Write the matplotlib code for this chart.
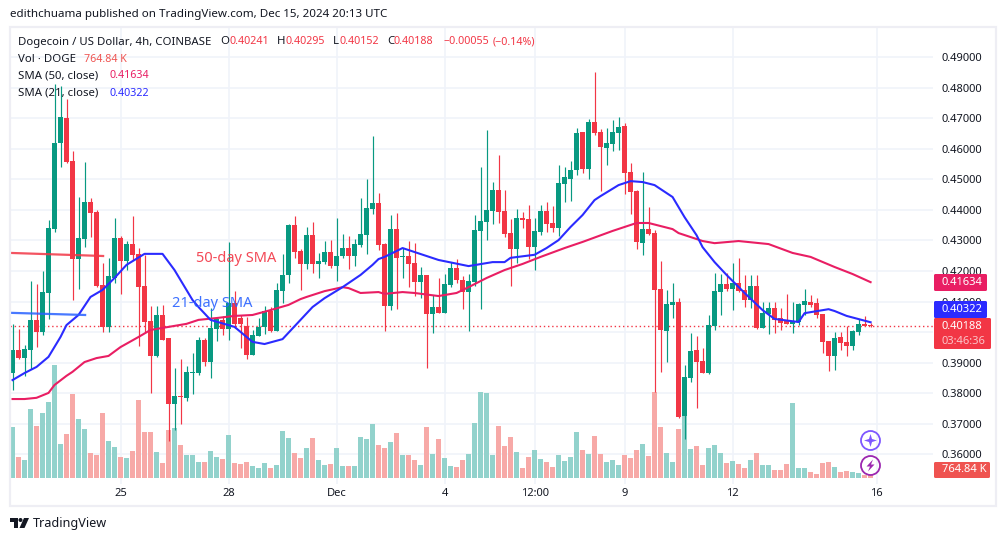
import matplotlib
matplotlib.use("Agg")
import matplotlib.pyplot as plt
from matplotlib.patches import Rectangle, Circle, Polygon, FancyBboxPatch
import numpy as np

plt.rcParams['font.family'] = ['Noto Sans', 'DejaVu Sans']

# 4h candles
opens = [.3866,.3942,.3915,.3942,.4040,.4000,.4128,.4337,.4618,.4700,
         .4559,.4239,.4304,.4425,.4392,.4154,.4017,.4177,.4308,.4233,
         .4288,.4256,.4151,.4037,.3922,.4056,.3981,.3765,.3791,.3785,
         .3866,.3866,.3974,.3902,.4010,.4040,.4010,.4095,.4046,.4020,
         .3925,.3987,.4017,.4069,.4004,.4134,.4187,.4350,.4266,.4223,
         .4317,.4223,.4229,.4262,.4216,.4249,.4275,.4249,.4285,.4317,
         .4402,.4422,.4288,.4085,.4337,.4246,.4249,.4226,.4164,.4187,
         .4059,.4082,.4062,.4154,.4210,.4170,.4131,.4164,.4331,.4360,
         .4396,.4465,.4396,.4324,.4272,.4374,.4370,.4278,.4327,.4396,
         .4357,.4341,.4484,.4501,.4530,.4654,.4533,.4687,.4654,.4602,
         .4615,.4651,.4674,.4523,.4462,.4291,.4337,.4324,.4141,.4004,
         .4088,.4098,.3726,.3850,.3942,.3905,.3866,.4020,.4131,.4157,
         .4141,.4160,.4138,.4105,.4151,.4014,.4059,.4079,.4046,.4037,
         .4027,.4033,.4088,.4098,.4095,.4059,.3971,.3922,.3984,.3968,
         .3955,.4000,.4027,.40241]
highs = [.4027,.4010,.3958,.4167,.4157,.4200,.4367,.4811,.4805,.4762,
         .4592,.4442,.4556,.4439,.4399,.4226,.4243,.4374,.4314,.4298,
         .4380,.4275,.4253,.4085,.4085,.4088,.3981,.3883,.3912,.3889,
         .3932,.3984,.3981,.4079,.4050,.4053,.4295,.4134,.4056,.4050,
         .4007,.4046,.4085,.4082,.4160,.4256,.4355,.4380,.4272,.4344,
         .4360,.4259,.4298,.4301,.4374,.4321,.4314,.4304,.4439,.4501,
         .4641,.4455,.4290,.4383,.4389,.4275,.4298,.4291,.4213,.4187,
         .4121,.4177,.4190,.4229,.4239,.4183,.4190,.4383,.4540,.4661,
         .4491,.4579,.4465,.4370,.4402,.4392,.4416,.4374,.4416,.4425,
         .4412,.4546,.4540,.4559,.4667,.4654,.4697,.4850,.4664,.4667,
         .4694,.4703,.4684,.4553,.4465,.4523,.4409,.4334,.4233,.4138,
         .4160,.4111,.3893,.3997,.3987,.3948,.4056,.4193,.4190,.4193,
         .4226,.4243,.4187,.4187,.4187,.4098,.4098,.4098,.4079,.4125,
         .4098,.4095,.4141,.4121,.4111,.4059,.3971,.4000,.4000,.4020,
         .4007,.4043,.4053,.40295]
lows = [.3811,.3912,.3856,.3879,.3951,.3990,.4043,.4327,.4540,.4553,
        .4105,.4141,.4278,.4311,.4147,.4000,.4000,.4160,.4125,.4203,
        .4236,.3955,.4000,.3801,.3919,.3974,.3644,.3680,.3700,.3775,
        .3798,.3859,.3889,.3850,.3971,.3990,.3974,.4014,.3948,.3912,
        .3925,.3987,.3994,.4000,.4004,.4095,.4160,.4243,.4138,.4206,
        .4193,.4177,.4223,.4210,.4167,.4243,.4206,.4216,.4278,.4256,
        .4386,.4269,.4004,.4072,.4075,.4177,.4147,.4118,.4111,.3883,
        .3997,.4062,.4062,.4147,.4160,.4075,.4004,.4151,.4075,.4301,
        .4353,.4357,.4311,.4151,.4226,.4341,.4239,.4203,.4317,.4327,
        .4327,.4314,.4425,.4429,.4514,.4520,.4501,.4645,.4462,.4546,
        .4592,.4596,.4452,.4386,.4272,.4253,.4317,.3804,.3869,.3902,
        .4046,.3719,.3650,.3837,.3752,.3866,.3863,.4007,.4056,.4134,
        .4072,.4131,.4082,.4079,.4010,.4014,.3994,.3997,.4007,.4027,
        .3997,.4023,.4056,.4082,.4046,.3932,.3873,.3876,.3942,.3922,
        .3942,.3990,.4020,.40152]
closes = [.3942,.3915,.3945,.4040,.4000,.4131,.4341,.4618,.4703,.4556,
          .4239,.4308,.4425,.4389,.4151,.4017,.4183,.4308,.4233,.4288,
          .4253,.4147,.4033,.3922,.4056,.3974,.3765,.3791,.3788,.3869,
          .3869,.3974,.3902,.4014,.4043,.4010,.4095,.4027,.4027,.3925,
          .3990,.4017,.4069,.4004,.4138,.4187,.4350,.4262,.4223,.4317,
          .4223,.4233,.4262,.4216,.4249,.4275,.4249,.4288,.4321,.4406,
          .4422,.4285,.4085,.4337,.4243,.4249,.4223,.4164,.4187,.4059,
          .4082,.4062,.4157,.4210,.4170,.4131,.4167,.4334,.4363,.4399,
          .4465,.4392,.4321,.4272,.4374,.4367,.4278,.4331,.4396,.4353,
          .4341,.4488,.4507,.4530,.4651,.4533,.4687,.4651,.4605,.4618,
          .4654,.4671,.4520,.4458,.4295,.4337,.4321,.4138,.4007,.4092,
          .4098,.3722,.3853,.3939,.3902,.3866,.4023,.4134,.4157,.4141,
          .4160,.4134,.4105,.4151,.4014,.4062,.4079,.4040,.4030,.4027,
          .4037,.4092,.4102,.4088,.4056,.3968,.3922,.3981,.3965,.3955,
          .4004,.4027,.4020,.40188]
# volume in millions of DOGE
volumes = [15.2,6.2,5.3,20.6,15.5,19.4,22.7,33.8,10.1,13.1,
           25.1,17.6,14.6,7.4,6.8,19.4,11.0,9.2,6.2,5.9,
           8.0,23.3,13.7,13.7,7.7,4.4,14.3,14.9,9.8,6.8,
           6.8,4.7,4.7,8.0,6.2,5.6,12.8,4.4,4.1,4.7,
           3.5,2.9,4.4,2.9,3.8,14.0,11.9,7.5,6.0,9.0,
           12.0,5.4,3.9,4.2,9.0,3.6,3.6,3.6,12.3,11.7,
           16.2,9.9,9.0,10.8,13.5,6.9,6.9,5.4,3.9,15.3,
           7.2,11.7,6.0,3.6,3.3,5.4,7.2,16.5,25.8,25.5,
           6.9,15.6,9.6,12.3,7.8,3.0,6.3,8.4,5.7,4.8,
           3.3,6.9,5.1,6.3,13.8,8.4,7.2,12.6,7.2,4.8,
           5.4,3.9,6.9,6.0,8.4,10.2,6.6,25.8,15.3,7.5,
           4.8,14.7,18.9,8.7,9.6,3.9,9.0,9.9,7.5,4.5,
           5.1,4.2,3.0,5.4,7.5,3.9,3.9,2.4,2.4,4.2,
           22.5,3.0,3.0,1.8,1.2,4.5,4.8,3.3,1.8,2.1,
           1.8,1.5,0.9,0.76484]

sma21_idx = [0,2,4,6,8,9,11,13,15,17,19,22,25,27,30,31,33,37,40,42,45,48,50,52,55,58,60,61,62,65,
             67,71,76,80,82,83,87,89,91,93,95,97,98,101,103,105,107,110,112,114,115,117,119,122,125,127,131,132,136,137,139,143]
sma21 = [.3843,.3866,.3886,.3919,.3984,.4023,.4056,.4115,.4138,.4177,.4220,.4256,.4256,.4203,.4105,.4082,.4040,.4017,.3968,.3961,.3977,.4040,.4082,.4111,.4147,.4187,.4220,.4239,.4246,.4275,
         .4262,.4236,.4216,.4229,.4229,.4243,.4253,.4275,.4301,.4344,.4383,.4432,.4445,.4481,.4494,.4491,.4481,.4442,.4376,.4317,.4278,.4229,.4187,.4128,.4072,.4043,.4033,.4062,.4075,.4069,.4053,.40322]
sma50_idx = [0,2,4,6,7,9,10,12,14,16,18,21,23,26,29,31,34,37,40,43,46,48,49,52,55,56,58,61,62,65,
             67,71,74,76,79,82,85,88,92,95,100,102,104,106,110,111,115,117,121,126,130,133,137,140,143]
sma50 = [.3781,.3781,.3785,.3801,.3827,.3857,.3870,.3902,.3915,.3922,.3951,.3984,.4007,.4017,.4027,.4040,.4046,.4053,.4056,.4072,.4089,.4108,.4115,.4134,.4147,.4144,.4128,.4131,.4125,.4131,
         .4128,.4118,.4128,.4147,.4177,.4203,.4223,.4246,.4275,.4295,.4331,.4344,.4357,.4357,.4337,.4324,.4298,.4291,.4298,.4288,.4259,.4246,.4213,.4190,.41634]

price_ticks = [.36,.37,.38,.39,.40,.41,.42,.43,.44,.45,.46,.47,.48,.49]
time_idx = [18,36,54,72,87,102,120,144]
time_labels = ['25','28','Dec','4','12:00','9','12','16']

UP, DOWN = '#089981', '#F23645'
W, H = 1005, 541
L, R, T, B = 10, 933, 28, 484
rect = [L/W, 1-B/H, (R-L)/W, (B-T)/H]

fig = plt.figure(figsize=(W/100, H/100), dpi=100, facecolor='white')

# grid and price scale at the bottom
axg = fig.add_axes(rect)
axv = fig.add_axes(rect, sharex=axg)
ax = fig.add_axes(rect, sharex=axg, sharey=axg)
for a in (axg, axv, ax):
    for s in a.spines.values():
        s.set_visible(False)
axv.patch.set_visible(False)
ax.patch.set_visible(False)

idx = np.arange(len(closes))
o, h, l, c = map(np.array, (opens, highs, lows, closes))
colors = np.where(c >= o, UP, DOWN)

axg.set_xlim(-0.4167, 153.4)
axg.set_ylim(.3503, .4995)
axg.set_yticks(price_ticks)
axg.set_yticklabels(['%.5f' % p for p in price_ticks])
axg.yaxis.tick_right()
axg.set_xticks(time_idx)
axg.set_xticklabels(time_labels)
axg.tick_params(length=0, labelsize=8.0, labelcolor='#131722', pad=6)
axg.tick_params(axis='x', pad=3)
axg.grid(color='#F0F3FA', lw=1.2)
axg.set_axisbelow(True)

axv.set_ylim(-1.8, 135)
axv.bar(idx, volumes, width=0.83, color=np.where(c >= o, '#92D2CC', '#F7A9A7'))
axv.axis('off')

ax.vlines(idx, l, h, colors=colors, lw=0.85, zorder=2)
ax.bar(idx, np.abs(c-o), bottom=np.minimum(o, c), width=0.83, color=colors, zorder=3)
ax.axhline(closes[-1], color=DOWN, ls=(0, (1, 2)), lw=1, zorder=1)
ax.plot(sma50_idx, sma50, color='#E91E63', lw=1.5, zorder=4)
ax.plot(sma21_idx, sma21, color='#2B2BFF', lw=1.5, zorder=5)
# hand drawn trend lines on the published chart
ax.plot([-0.25, 15.1], [.4259, .4249], color='#F23645', lw=1.6, alpha=.85, zorder=6)
ax.plot([-0.25, 12.1], [.4063, .4056], color='#2962FF', lw=1.6, alpha=.85, zorder=6)
ax.text(30.5, .4241, '50-day SMA', color='#F23645', fontsize=10.5, va='center', alpha=.9, zorder=7)
ax.text(26.5, .4095, '21-day SMA', color='#2962FF', fontsize=10.5, va='center', alpha=.9, zorder=7)
ax.tick_params(left=False, bottom=False, labelleft=False, labelbottom=False)

# overlay in pixels for the chrome
ov = fig.add_axes([0, 0, 1, 1])
ov.set_xlim(0, W)
ov.set_ylim(H, 0)
ov.axis('off')
ov.add_patch(Rectangle((9.5, 27), 986, 479, fill=False, ec='#EEEEF4', lw=1.6))

ov.text(10, 15, 'edithchuama published on TradingView.com, Dec 15, 2024 20:13 UTC',
        fontsize=8.35, color='#131722', va='center')

INK = '#131722'
legend = [(18, 42, 'Dogecoin / US Dollar, 4h, COINBASE', INK, 8.2),
          (220, 42, 'O', INK, 8.2), (229, 42, '0.40241', DOWN, 7.7),
          (277, 42, 'H', INK, 8.2), (285, 42, '0.40295', DOWN, 7.7),
          (333, 42, 'L', INK, 8.2), (339, 42, '0.40152', DOWN, 7.7),
          (387, 42, 'C', INK, 8.2), (394, 42, '0.40188', DOWN, 7.7),
          (443, 42, '\u22120.00055', DOWN, 7.7), (493, 42, '(\u22120.14%)', DOWN, 7.7),
          (18, 59, 'Vol \u00b7 DOGE', INK, 8.2), (84, 59, '764.84 K', '#EF5350', 7.7),
          (18, 76, 'SMA (50, close)', INK, 8.2), (110, 76, '0.41634', '#E91E63', 7.7),
          (18, 93, 'SMA (21, close)', INK, 8.2), (110, 93, '0.40322', '#2B2BFF', 7.7)]
for x, y, s, col, size in legend:
    ov.text(x, y, s, fontsize=size, color=col, va='center')

def tag(x0, x1, y0, y1, col):
    ov.add_patch(FancyBboxPatch((x0+1, y0+1), x1-x0-2, y1-y0-2, boxstyle='round,pad=1,rounding_size=1.5',
                                fc=col, ec='none'))

tag(934, 987, 274, 291, '#E91E63')
ov.text(942, 282.5, '0.41634', color='white', fontsize=8.0, va='center')
tag(934, 987, 301, 318, '#2B2BFF')
ov.text(942, 310, '0.40322', color='white', fontsize=8.0, va='center')
tag(934, 991, 318, 349, DOWN)
ov.text(942, 326.5, '0.40188', color='white', fontsize=8.0, va='center')
ov.text(942, 341, '03:46:36', color='#FBC4C8', fontsize=8.0, va='center')
tag(934, 990, 462, 478, '#EF5350')
ov.text(942, 470, '764.84 K', color='white', fontsize=8.0, va='center')

# floating buttons
ov.add_patch(Circle((870.5, 440.5), 9.5, fill=False, ec='#7E57FF', lw=1.3))
ov.add_patch(Polygon([(870.5, 434), (872, 439), (877, 440.5), (872, 442), (870.5, 447), (869, 442), (864, 440.5), (869, 439)],
                     fc='#7E57FF', ec='none'))
ov.add_patch(Circle((870.5, 465.5), 9.5, fill=False, ec='#9C27B0', lw=1.3))
ov.add_patch(Polygon([(873, 459.5), (866.5, 466.5), (870, 466.5), (868, 471.5), (874.5, 464.5), (871, 464.5)],
                     fc='#9C27B0', ec='none'))

# logo
ov.add_patch(Polygon([(10, 518), (18, 518), (18, 528), (14, 528), (14, 522), (10, 522)], fc=INK, ec='none'))
ov.add_patch(Circle((20.5, 520), 2, fc=INK, ec='none'))
ov.add_patch(Polygon([(24, 518), (29, 518), (24.5, 528), (19.5, 528)], fc=INK, ec='none'))
ov.text(33, 523.5, 'TradingView', fontsize=9.1, color=INK, va='center')

fig.savefig('out.png', dpi=100)
